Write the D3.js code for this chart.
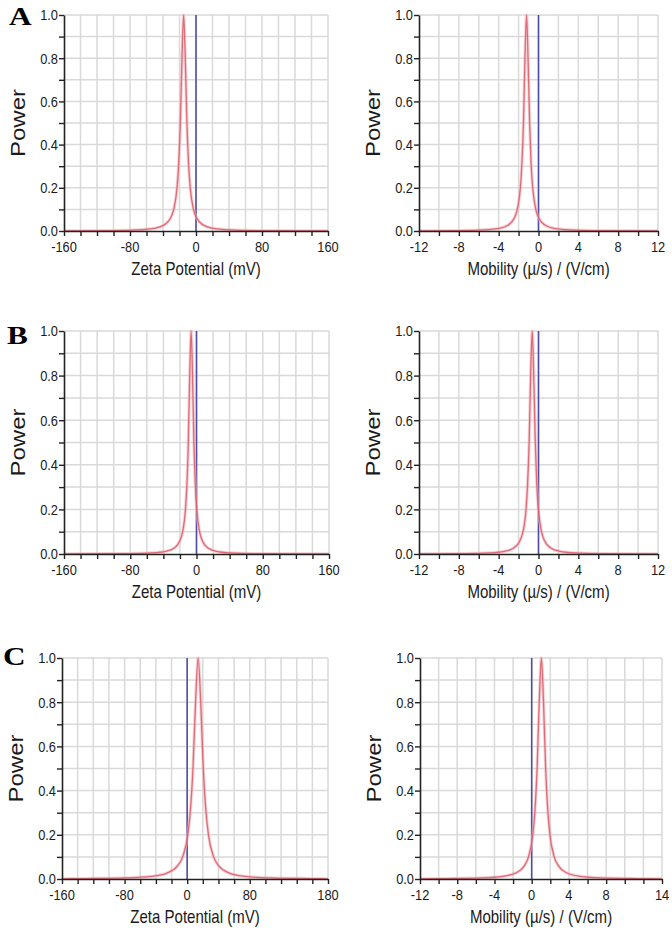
<!DOCTYPE html>
<html><head><meta charset="utf-8">
<script src="https://cdn.jsdelivr.net/npm/d3@7"></script>
<style>body{margin:0;background:#fff;} svg{display:block}</style>
</head><body><svg id="chart" width="672" height="943"></svg>
<script>
// ---------- data ----------
const powerLevels = [0.001,0.002,0.005,0.012,0.027,0.059,0.1,0.2,0.31,0.5,0.8,1.0,0.8,0.5,0.31,0.2,0.1,0.059,0.027,0.012,0.005,0.002,0.001];

const zetaA = [-160,-103,-71,-51,-39,-31,-27,-23,-21,-19,-17,-15,-13,-11,-9,-7,-3,1,9,21,41,73,160];
const mobA  = [-12,-8.02,-5.54,-3.99,-3.06,-2.44,-2.13,-1.82,-1.67,-1.51,-1.36,-1.2,-1.05,-0.89,-0.74,-0.58,-0.27,0.04,0.66,1.59,3.14,5.62,12];
const zetaB = [-160,-81.3,-54.1,-37.1,-26.9,-20.1,-16.7,-13.3,-11.6,-9.9,-8.2,-6.5,-4.8,-3.1,-1.4,0.3,3.7,7.1,13.9,24.1,41.1,68.3,160];
const mobB  = [-12,-7.45,-4.97,-3.42,-2.49,-1.87,-1.56,-1.25,-1.1,-0.94,-0.79,-0.63,-0.48,-0.32,-0.17,-0.01,0.3,0.61,1.23,2.16,3.71,6.19,12];
const zetaC = [-160,-131.2,-78.4,-45.4,-25.6,-12.4,-5.8,0.8,4.1,7.4,10.7,14,17.3,20.6,23.9,27.2,33.8,40.4,53.6,73.4,106.4,159.2,180];
const mobC  = [-12,-9.08,-5.4,-3.1,-1.72,-0.8,-0.34,0.12,0.35,0.58,0.81,1.04,1.27,1.5,1.73,1.96,2.42,2.88,3.8,5.18,7.48,11.16,14];

const powerTicks = [0,0.2,0.4,0.6,0.8,1.0];
const zetaTicksAB = [-160,-80,0,80,160];
const zetaTicksC  = [-160,-80,0,80,180];
const mobTicksAB  = [-12,-8,-4,0,4,8,12];
const mobTicksC   = [-12,-8,-4,0,4,8,14];
const zetaTitle = "Zeta Potential (mV)";
const mobTitle = "Mobility (\u00b5/s) / (V/cm)";
const panelLetters = ["A","B","C"];

// ---------- layout ----------
const svg = d3.select("#chart");
const panels = [
  {xs: zetaA, dom:[-160,160], step:20, labels:zetaTicksAB, title:zetaTitle, x0:64,  x1:328, y0:15,  y1:231, letter:0},
  {xs: mobA,  dom:[-12,12],   step:2,  labels:mobTicksAB,  title:mobTitle,  x0:419, x1:658, y0:15,  y1:231},
  {xs: zetaB, dom:[-160,160], step:20, labels:zetaTicksAB, title:zetaTitle, x0:64,  x1:329, y0:331, y1:554, letter:1},
  {xs: mobB,  dom:[-12,12],   step:2,  labels:mobTicksAB,  title:mobTitle,  x0:419, x1:658, y0:331, y1:554},
  {xs: zetaC, dom:[-160,180], step:20, labels:zetaTicksC,  title:zetaTitle, x0:62,  x1:328, y0:658, y1:879, letter:2},
  {xs: mobC,  dom:[-12,14],   step:2,  labels:mobTicksC,   title:mobTitle,  x0:420, x1:662, y0:658, y1:879},
];
const letterPos = [[9,25],[7,344],[3,665]];
const FONT = "'Liberation Sans', Arial, sans-serif";

function txt(g, x, y, s, size, anchor, sx, sy, extra) {
  return g.append("text")
    .attr("transform", `translate(${x},${y})${extra||""} scale(${sx},${sy})`)
    .attr("font-family", FONT).attr("font-size", size)
    .attr("text-anchor", anchor).attr("fill", "#1a1a1a").text(s);
}

panels.forEach((p, i) => {
  const g = svg.append("g");
  const x = d3.scaleLinear().domain(p.dom).range([p.x0, p.x1]);
  const y = d3.scaleLinear().domain([0, 1]).range([p.y1, p.y0]);
  const xMinor = d3.range(p.dom[0], p.dom[1] + 1e-9, p.step);
  const yMinor = d3.range(0, 1.0001, 0.1);

  // grid
  g.append("g").selectAll("line.v").data(xMinor.slice(1)).join("line")
    .attr("x1", d => x(d)).attr("x2", d => x(d)).attr("y1", p.y0).attr("y2", p.y1)
    .attr("stroke", "#d9d9d9").attr("stroke-width", 1.5);
  g.append("g").selectAll("line.h").data(yMinor.slice(1)).join("line")
    .attr("y1", d => y(d)).attr("y2", d => y(d)).attr("x1", p.x0).attr("x2", p.x1)
    .attr("stroke", "#d9d9d9").attr("stroke-width", 1.5);

  // clip
  const cid = "clip" + i;
  svg.append("clipPath").attr("id", cid).append("rect")
    .attr("x", p.x0).attr("y", p.y0 - 2).attr("width", p.x1 - p.x0).attr("height", p.y1 - p.y0 + 2);

  // zero line
  g.append("line").attr("x1", x(0)).attr("x2", x(0)).attr("y1", p.y0).attr("y2", p.y1)
    .attr("stroke", "#4f4fa6").attr("stroke-width", 1.6);

  // curve
  const pts = p.xs.map((v, k) => [v, powerLevels[k]]);
  const line = d3.line().x(d => x(d[0])).y(d => y(d[1])).curve(d3.curveMonotoneX);
  const cg = g.append("g").attr("clip-path", `url(#${cid})`);
  cg.append("path").attr("d", line(pts)).attr("fill", "none")
    .attr("stroke", "#f2b3ba").attr("stroke-width", 3.2).attr("stroke-opacity", 0.6);
  cg.append("path").attr("d", line(pts)).attr("fill", "none")
    .attr("stroke", "#dc5f6c").attr("stroke-width", 1.3).attr("stroke-opacity", 0.9);

  // axes
  const ax = g.append("g").attr("transform", `translate(0,${p.y1})`)
    .call(d3.axisBottom(x).tickValues(xMinor).tickSize(5).tickSizeOuter(0).tickFormat(""));
  const ay = g.append("g").attr("transform", `translate(${p.x0},0)`)
    .call(d3.axisLeft(y).tickValues(yMinor).tickSize(5).tickSizeOuter(0).tickFormat(""));
  [ax, ay].forEach(a => {
    a.select(".domain").attr("stroke", "#222").attr("stroke-width", 1.6);
    a.selectAll(".tick line").attr("stroke", "#222").attr("stroke-width", 1.4);
  });

  // tick labels
  p.labels.forEach(v => {
    txt(g, x(v), p.y1 + 21, String(v), 13.5, "middle", 0.95, 1.1);
  });
  powerTicks.forEach(v => {
    txt(g, p.x0 - 6, y(v) + 5.3, v.toFixed(1), 13.5, "end", 0.95, 1.1);
  });

  // axis titles
  txt(g, (p.x0 + p.x1) / 2, p.y1 + 44, p.title, 15.5, "middle", 0.97, 1.2);
  txt(g, p.x0 - 46, (p.y0 + p.y1) / 2, "Power", 20, "middle", 1.2, 1, " rotate(-90)")
    .attr("dy", "0.35em");

  if (p.letter !== undefined) {
    const lp = letterPos[p.letter];
    svg.append("text").attr("transform", `translate(${lp[0]},${lp[1]}) scale(1.25,1)`)
      .attr("font-family", "'Liberation Serif', 'Times New Roman', serif")
      .attr("font-weight", "bold").attr("font-size", 25).attr("fill", "#000")
      .text(panelLetters[p.letter]);
  }
});
</script></body></html>
